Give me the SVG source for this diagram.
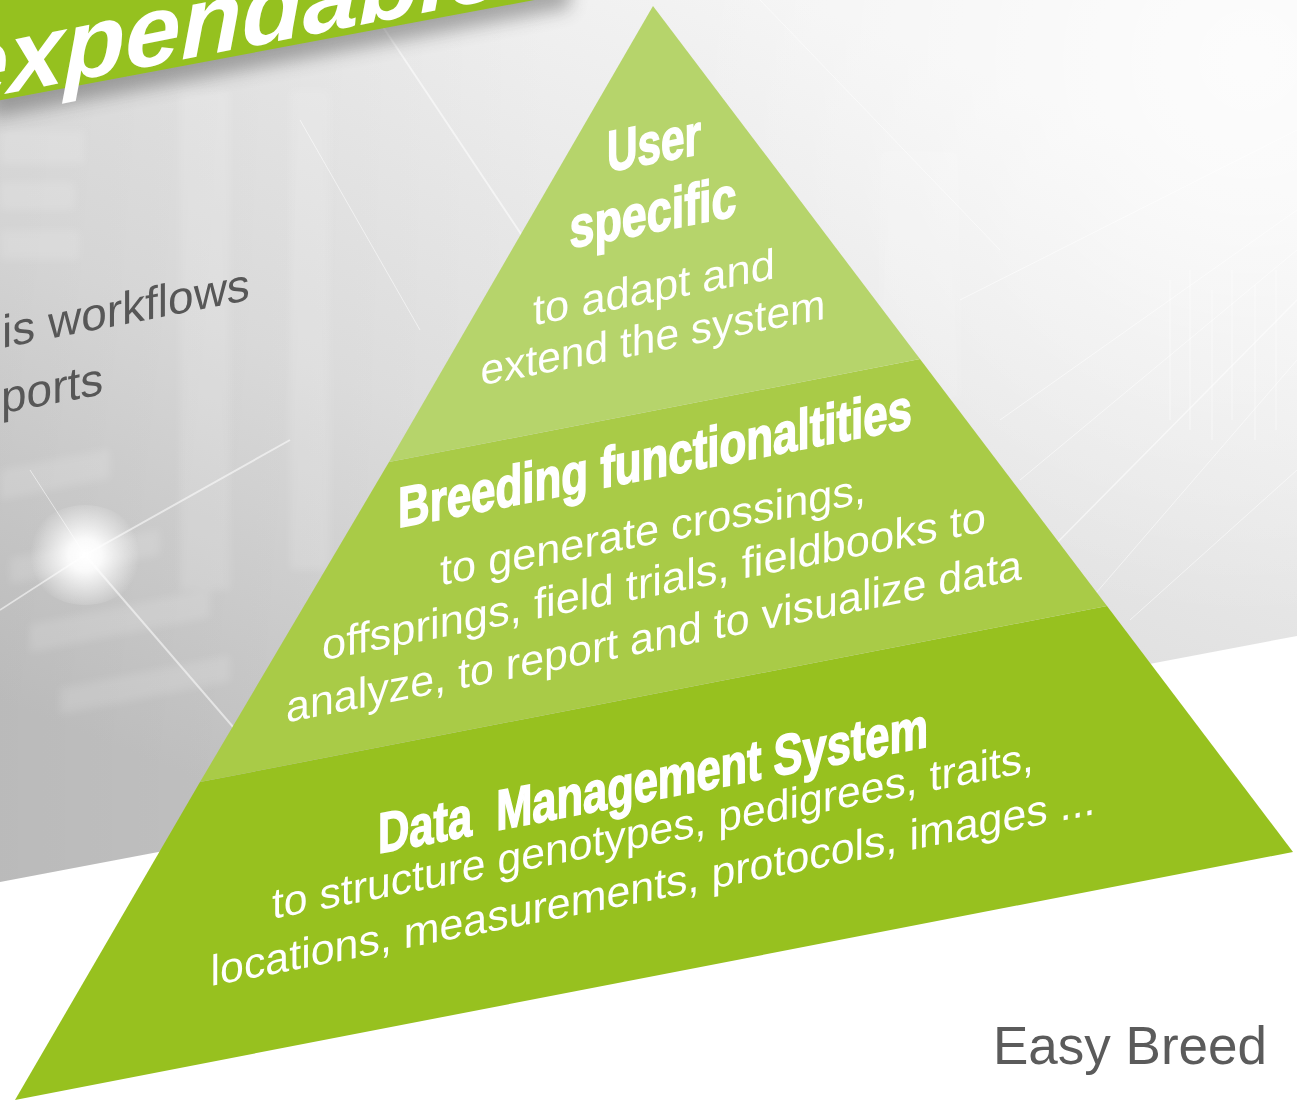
<svg xmlns="http://www.w3.org/2000/svg" width="1297" height="1102" viewBox="0 0 1297 1102">
  <defs>
    <style>
      .title { font-family: "Liberation Sans Narrow", "Liberation Sans", "DejaVu Sans Condensed", sans-serif; font-weight: bold; fill: #ffffff; stroke: #ffffff; stroke-width: 1.6; text-anchor: middle; white-space: pre; }
      .body { font-family: "Liberation Sans", Arial, sans-serif; font-weight: normal; fill: #ffffff; text-anchor: middle; font-size: 43px; }
      .side { font-family: "Liberation Sans", Arial, sans-serif; fill: #575757; font-size: 46px; }
      .streak { stroke: #ffffff; fill: none; }
    </style>
    <linearGradient id="bgGrad" gradientUnits="userSpaceOnUse" x1="800" y1="0" x2="450" y2="880">
      <stop offset="0" stop-color="#f4f4f4"/>
      <stop offset="0.55" stop-color="#e0e0e0"/>
      <stop offset="1" stop-color="#c6c6c6"/>
    </linearGradient>
    <linearGradient id="leftShade" gradientUnits="userSpaceOnUse" x1="0" y1="0" x2="560" y2="0">
      <stop offset="0" stop-color="#000000" stop-opacity="0.06"/>
      <stop offset="1" stop-color="#000000" stop-opacity="0"/>
    </linearGradient>
    <radialGradient id="cornerLight" gradientUnits="userSpaceOnUse" cx="1250" cy="60" r="560">
      <stop offset="0" stop-color="#ffffff" stop-opacity="0.75"/>
      <stop offset="1" stop-color="#ffffff" stop-opacity="0"/>
    </radialGradient>
    <radialGradient id="glow" gradientUnits="userSpaceOnUse" cx="85" cy="555" r="55">
      <stop offset="0" stop-color="#ffffff" stop-opacity="1"/>
      <stop offset="0.3" stop-color="#ffffff" stop-opacity="0.9"/>
      <stop offset="1" stop-color="#ffffff" stop-opacity="0"/>
    </radialGradient>
    <filter id="soft" x="-20%" y="-50%" width="140%" height="200%">
      <feGaussianBlur stdDeviation="9"/>
    </filter>
    <filter id="haze" x="-20%" y="-20%" width="140%" height="140%">
      <feGaussianBlur stdDeviation="4"/>
    </filter>
    <clipPath id="bgClip">
      <polygon points="0,0 1297,0 1297,636 0,882"/>
    </clipPath>
  </defs>

  <!-- page -->
  <rect x="0" y="0" width="1297" height="1102" fill="#ffffff"/>

  <!-- grey technical backdrop -->
  <g id="backdrop" clip-path="url(#bgClip)">
    <rect x="0" y="0" width="1297" height="900" fill="url(#bgGrad)"/>
    <rect x="0" y="0" width="1297" height="900" fill="url(#leftShade)"/>
    <rect x="0" y="0" width="1297" height="900" fill="url(#cornerLight)"/>
    <!-- faint rack panels -->
    <g fill="#ffffff" opacity="0.14" filter="url(#haze)">
      <rect x="0" y="130" width="85" height="34"/>
      <rect x="0" y="182" width="75" height="28"/>
      <rect x="0" y="230" width="80" height="30"/>
      <rect x="0" y="470" width="110" height="30" transform="skewY(-11)"/>
      <rect x="10" y="560" width="150" height="26" transform="skewY(-11)"/>
      <rect x="30" y="630" width="180" height="28" transform="skewY(-11)"/>
      <rect x="60" y="700" width="170" height="26" transform="skewY(-11)"/>
      <rect x="180" y="90" width="50" height="500"/>
      <rect x="290" y="90" width="40" height="480"/>
      <rect x="880" y="150" width="80" height="250"/>
    </g>
    <!-- light streaks -->
    <g class="streak" opacity="0.55">
      <line x1="365" y1="0" x2="545" y2="270" stroke-width="2"/>
      <line x1="300" y1="120" x2="420" y2="330" stroke-width="1"/>
      <line x1="85" y1="555" x2="290" y2="440" stroke-width="2"/>
      <line x1="85" y1="555" x2="240" y2="735" stroke-width="2"/>
      <line x1="85" y1="555" x2="0" y2="610" stroke-width="1.5"/>
      <line x1="85" y1="555" x2="30" y2="470" stroke-width="1"/>
      <line x1="1297" y1="300" x2="1040" y2="560" stroke-width="1.5"/>
      <line x1="1297" y1="360" x2="1090" y2="600" stroke-width="1"/>
      <line x1="1297" y1="130" x2="960" y2="300" stroke-width="1"/>
      <line x1="1297" y1="210" x2="1000" y2="420" stroke-width="1"/>
      <line x1="1297" y1="470" x2="1130" y2="620" stroke-width="1"/>
      <line x1="1297" y1="250" x2="1020" y2="480" stroke-width="1"/>
      <line x1="760" y1="0" x2="1000" y2="250" stroke-width="1"/>
    </g>
    <g class="streak" opacity="0.35" stroke-width="1.5">
      <line x1="1170" y1="280" x2="1170" y2="420"/>
      <line x1="1190" y1="270" x2="1190" y2="430"/>
      <line x1="1212" y1="290" x2="1212" y2="440"/>
      <line x1="1232" y1="270" x2="1232" y2="420"/>
      <line x1="1255" y1="285" x2="1255" y2="440"/>
      <line x1="1276" y1="270" x2="1276" y2="430"/>
    </g>
    <ellipse cx="85" cy="555" rx="58" ry="50" fill="url(#glow)"/>
  </g>

  <!-- headline ribbon -->
  <g id="ribbon">
    <polygon points="-10,118 570,8 570,-30 -10,-30" fill="#3a3a3a" opacity="0.4" filter="url(#soft)"/>
    <polygon points="-10,102 545,-2 545,-20 -10,-20" fill="#95c11f"/>
    <text x="-47" y="95" transform="skewY(-11)" font-family="'Liberation Sans', Arial, sans-serif" font-weight="bold" font-style="italic" font-size="100" fill="#ffffff">expendable</text>
  </g>

  <!-- partial bullet lines at the left -->
  <g id="side-text">
    <text class="side" x="2" y="348.4" transform="skewY(-11)">is workflows</text>
    <text class="side" x="1" y="414" transform="skewY(-11)">ports</text>
  </g>

  <!-- pyramid tiers -->
  <g id="tier-data-management">
    <polygon points="200,782 1107,606 1293,852 15,1100" fill="#97c11f"/>
    <g transform="skewY(-11)">
      <text class="title" x="653" y="927" font-size="57" textLength="550" lengthAdjust="spacingAndGlyphs">Data  Management System</text>
      <text class="body" x="653" y="972" textLength="762" lengthAdjust="spacingAndGlyphs">to structure genotypes, pedigrees, traits,</text>
      <text class="body" x="653" y="1027" textLength="885" lengthAdjust="spacingAndGlyphs">locations, measurements, protocols, images ...</text>
    </g>
  </g>

  <g id="tier-breeding">
    <polygon points="389,462 920,359 1107,606 200,782" fill="#a9cb47"/>
    <g transform="skewY(-11)">
      <text class="title" x="655" y="605" font-size="57" textLength="514" lengthAdjust="spacingAndGlyphs">Breeding functionaltities</text>
      <text class="body" x="653" y="671" textLength="426" lengthAdjust="spacingAndGlyphs">to generate crossings,</text>
      <text class="body" x="654" y="723" textLength="664" lengthAdjust="spacingAndGlyphs">offsprings, field trials, fieldbooks to</text>
      <text class="body" x="654" y="778" textLength="736" lengthAdjust="spacingAndGlyphs">analyze, to report and to visualize data</text>
    </g>
  </g>

  <g id="tier-user-specific">
    <polygon points="653,6 920,359 389,462" fill="#b6d46b"/>
    <g transform="skewY(-11)">
      <text class="title" x="654" y="290" font-size="58" textLength="94" lengthAdjust="spacingAndGlyphs">User</text>
      <text class="title" x="653" y="359" font-size="58" textLength="167" lengthAdjust="spacingAndGlyphs">specific</text>
      <text class="body" x="654" y="429" textLength="242" lengthAdjust="spacingAndGlyphs">to adapt and</text>
      <text class="body" x="653" y="479" textLength="345" lengthAdjust="spacingAndGlyphs">extend the system</text>
    </g>
  </g>

  <!-- product name -->
  <g id="brand">
    <text x="993" y="1064" font-family="'Liberation Sans', Arial, sans-serif" font-size="53" fill="#5b5b5b">Easy Breed</text>
  </g>
</svg>
